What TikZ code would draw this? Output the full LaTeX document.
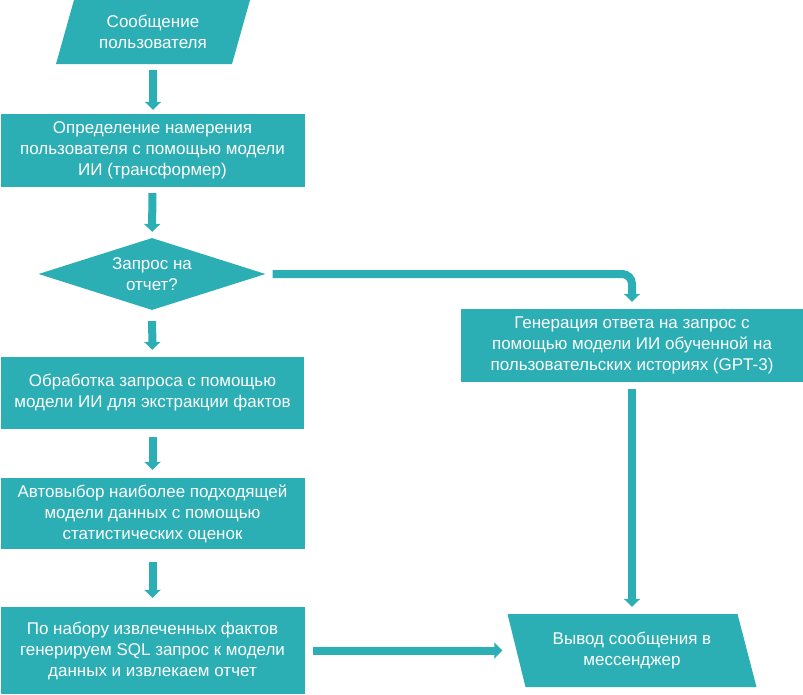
\documentclass[tikz,border=0pt]{standalone}
\usepackage{fontspec}
\setmainfont{Liberation Sans}
\usetikzlibrary{arrows.meta,shapes.geometric,calc}
\definecolor{flowteal}{RGB}{43,174,180}
\begin{document}
\begin{tikzpicture}[x=1pt,y=-1pt,
	txt/.style={text=white,align=center,inner sep=0pt,font=\fontsize{17}{21}\selectfont},
	box/.style={txt,rectangle,fill=flowteal},
	inbox/.style={txt,rectangle,path picture={\fill[flowteal]($(path picture bounding box.north west)+(18pt,0pt)$)--(path picture bounding box.north east)--($(path picture bounding box.south east)+(-18pt,0pt)$)--(path picture bounding box.south west)--cycle;}},
	outbox/.style={txt,rectangle,path picture={\fill[flowteal](path picture bounding box.north west)--($(path picture bounding box.north east)+(-19pt,0pt)$)--(path picture bounding box.south east)--($(path picture bounding box.south west)+(18pt,0pt)$)--cycle;}},
	decision/.style={txt,diamond,aspect=3.15,fill=flowteal},
	flow/.style={draw=flowteal,line width=8pt,-{Triangle[width=16pt,length=8pt]}}]
	\useasboundingbox (0,0) rectangle (803,694);
	% left column
	\node[inbox,minimum width=194,minimum height=64](msg) at (153,32){Сообщение\\пользователя};
	\node[box,minimum width=304,minimum height=73](intent) at (152.5,150.5){Определение намерения\\пользователя с помощью модели\\ИИ (трансформер)};
	\node[decision,minimum width=227,minimum height=72](query) at (152,274){Запрос на\\отчет?};
	\node[box,minimum width=303,minimum height=72](facts) at (152.5,393){Обработка запроса с помощью\\модели ИИ для экстракции фактов};
	\node[box,minimum width=304,minimum height=71](choice) at (152.5,513.5){Автовыбор наиболее подходящей\\модели данных с помощью\\статистических оценок};
	\node[box,minimum width=304,minimum height=87](sql) at (152.5,650.5){По набору извлеченных фактов\\генерируем SQL запрос к модели\\данных и извлекаем отчет};
	% right column
	\node[box,minimum width=342,minimum height=73](gen) at (632,345.5){Генерация ответа на запрос с\\помощью модели ИИ обученной на\\пользовательских историях (GPT-3)};
	\node[outbox,minimum width=249,minimum height=73](out) at (632,650.5){Вывод сообщения в\\мессенджер};
	% arrows
	\draw[flow,shorten <=6pt,shorten >=4pt](msg.south)--(msg.south|-intent.north);
	\draw[flow,shorten <=6pt,shorten >=6pt](intent)--(query);
	\draw[flow,shorten <=11pt,shorten >=7pt](query)--(facts);
	\draw[flow,shorten <=8pt,shorten >=8pt](facts)--(choice);
	\draw[flow,shorten <=13pt,shorten >=9pt](choice)--(sql);
	\draw[flow,rounded corners=10pt,shorten <=7pt,shorten >=7pt](query.east)-|(gen.north);
	\draw[flow,shorten <=7pt,shorten >=7pt](gen)--(out);
	\draw[flow,shorten <=8pt,shorten >=5pt](sql)--(out);
\end{tikzpicture}
\end{document}
